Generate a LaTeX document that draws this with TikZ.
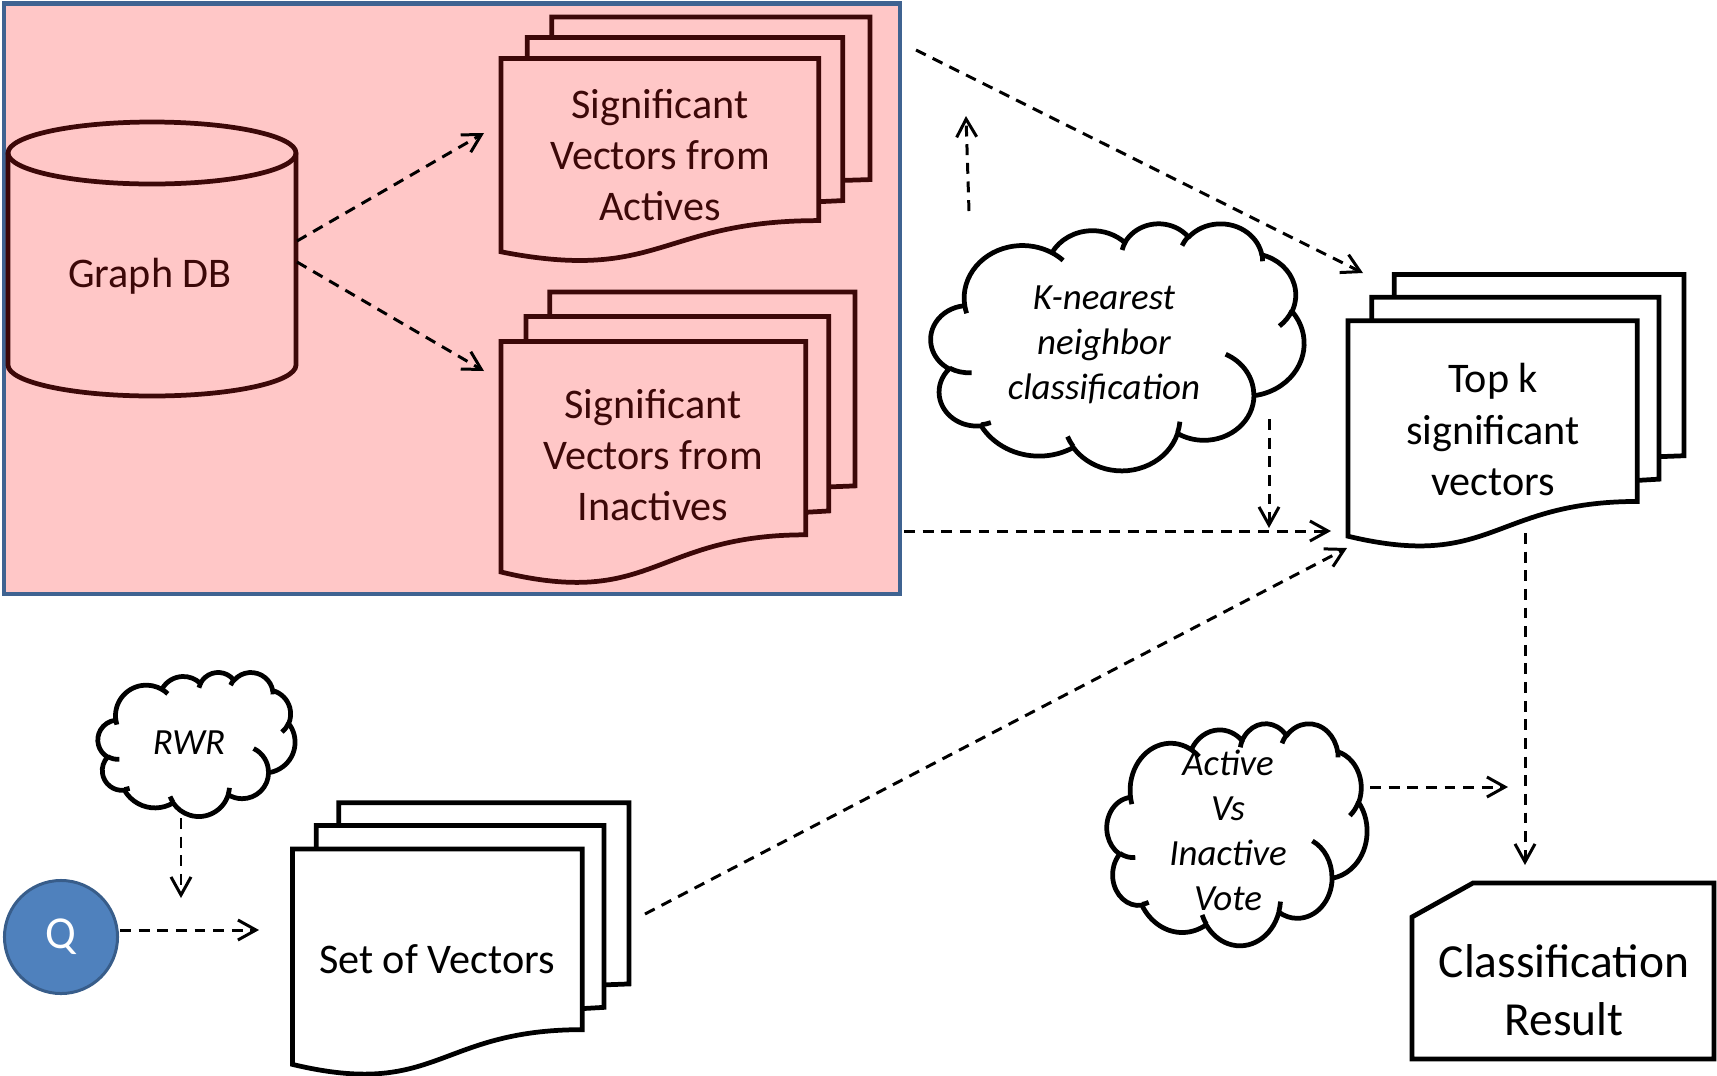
\documentclass[tikz,border=0pt]{standalone}
\usepackage{fontspec}
\setmainfont{Carlito}
\usetikzlibrary{arrows.meta}

\definecolor{pinkbg}{HTML}{FFC7C7}
\definecolor{boxblue}{HTML}{3F6391}
\definecolor{darkmaroon}{HTML}{3C0808}
\definecolor{qfill}{HTML}{4F81BD}
\definecolor{qline}{HTML}{385D8A}

\tikzset{
  shapeline/.style={line width=1.35pt, line join=miter},
  cloudline/.style={line width=1.35pt, line join=round},
  flow/.style={dash pattern=on 3.1pt off 2.2pt, line width=0.85pt,
    -{Straight Barb[length=1.8mm,width=2mm]}},
  doctext/.style={font=\fontsize{12}{14.6}\selectfont, align=center, inner sep=0pt},
  cloudtext/.style={font=\fontsize{10.5}{12.8}\selectfont\itshape, align=center, inner sep=0pt},
}

% Elliptic arc data of the cloud outline (path box 43.2 x 43.2):
% the start angle is given as a visual angle, turned here into the
% parametric angle and sweep used by TikZ arcs.
\newcommand\cldset[5]{%
  \pgfmathsetmacro\cldtA{atan2((#2)*sin(#4),(#3)*cos(#4))}%
  \pgfmathsetmacro\cldtB{atan2((#2)*sin((#4)+(#5)),(#3)*cos((#4)+(#5)))}%
  \pgfmathsetmacro\cldtD{mod((\cldtB)-(\cldtA)-(#5)+900,360)-180+(#5)}%
  \expandafter\xdef\csname cld#1s\endcsname{\cldtA}%
  \expandafter\xdef\csname cld#1d\endcsname{\cldtD}%
}
\cldset{oa}{6.753}{9.190}{-190.4875}{123.7805}
\cldset{ob}{5.333}{7.267}{-144.1024}{89.9452}
\cldset{oc}{4.365}{5.945}{-145.8079}{99.7230}
\cldset{od}{4.857}{6.595}{-130.9861}{117.2417}
\cldset{oe}{5.333}{7.273}{-78.7089}{109.0269}
\cldset{of}{6.775}{9.220}{-46.2673}{130.2690}
\cldset{og}{5.785}{7.867}{0.6250}{114.0333}
\cldset{oh}{6.752}{9.215}{22.4516}{115.1726}
\cldset{oi}{7.720}{10.543}{66.2426}{75.7110}
\cldset{oj}{4.360}{5.945}{-274.9421}{146.7356}
\cldset{ok}{4.345}{5.945}{-246.8285}{152.5189}
\cldset{ia}{4.345}{5.945}{86.7420}{26.4295}
\cldset{ib}{4.360}{5.945}{73.6105}{11.4475}
\cldset{ic}{6.752}{9.215}{137.6242}{14.0811}
\cldset{id}{6.752}{9.215}{6.4533}{15.9984}
\cldset{ie}{5.785}{7.867}{-70.2924}{70.9174}
\cldset{ig}{4.857}{6.595}{-13.7443}{14.8589}
\cldset{ih}{4.857}{6.595}{-149.1815}{18.1954}
\cldset{ii}{4.365}{5.945}{-163.4943}{17.6864}
\cldset{ij}{6.753}{9.190}{-66.7070}{12.3194}
\cldset{ik}{6.753}{9.190}{157.6544}{11.8582}
\cldset{ix}{5.333}{7.273}{30.3180}{27.7515}

% cloud: #1,#2 top-left corner, #3 width, #4 height
\newcommand\cloudshape[4]{%
  \begin{scope}[shift={(#1,#2)}, xscale=#3/43.2, yscale=#4/43.2]
    \filldraw[cloudline, fill=white] (3.9,14.37)
      arc[start angle=\cldoas, delta angle=\cldoad, x radius=6.753, y radius=9.19]
      arc[start angle=\cldobs, delta angle=\cldobd, x radius=5.333, y radius=7.267]
      arc[start angle=\cldocs, delta angle=\cldocd, x radius=4.365, y radius=5.945]
      arc[start angle=\cldods, delta angle=\cldodd, x radius=4.857, y radius=6.595]
      arc[start angle=\cldoes, delta angle=\cldoed, x radius=5.333, y radius=7.273]
      arc[start angle=\cldofs, delta angle=\cldofd, x radius=6.775, y radius=9.22]
      arc[start angle=\cldogs, delta angle=\cldogd, x radius=5.785, y radius=7.867]
      arc[start angle=\cldohs, delta angle=\cldohd, x radius=6.752, y radius=9.215]
      arc[start angle=\cldois, delta angle=\cldoid, x radius=7.72, y radius=10.543]
      arc[start angle=\cldojs, delta angle=\cldojd, x radius=4.36, y radius=5.945]
      arc[start angle=\cldoks, delta angle=\cldokd, x radius=4.345, y radius=5.945]
      -- cycle;
    \draw[cloudline]
      (4.693,26.177) arc[start angle=\cldias, delta angle=\cldiad, x radius=4.345, y radius=5.945]
      (6.928,34.899) arc[start angle=\cldibs, delta angle=\cldibd, x radius=4.36, y radius=5.945]
      (16.478,39.09) arc[start angle=\cldics, delta angle=\cldicd, x radius=6.752, y radius=9.215]
      (28.827,34.751) arc[start angle=\cldids, delta angle=\cldidd, x radius=6.752, y radius=9.215]
      (34.129,22.954) arc[start angle=\cldies, delta angle=\cldied, x radius=5.785, y radius=7.867]
      (41.798,15.354) arc[start angle=\cldixs, delta angle=\cldixd, x radius=5.333, y radius=7.273]
      (38.324,5.426) arc[start angle=\cldigs, delta angle=\cldigd, x radius=4.857, y radius=6.595]
      (29.078,3.952) arc[start angle=\cldihs, delta angle=\cldihd, x radius=4.857, y radius=6.595]
      (22.141,4.72) arc[start angle=\cldiis, delta angle=\cldiid, x radius=4.365, y radius=5.945]
      (14,5.192) arc[start angle=\cldijs, delta angle=\cldijd, x radius=6.753, y radius=9.19]
      (4.127,15.789) arc[start angle=\cldiks, delta angle=\cldikd, x radius=6.753, y radius=9.19];
  \end{scope}}

% stack of three pages with a wavy lower edge:
% #1,#2 top-left corner, #3 width, #4 height, #5 fill, #6 stroke (coordinates in percent)
\newcommand\multidoc[6]{%
  \begin{scope}[shift={(#1,#2)}, xscale=#3/100, yscale=#4/100]
    \fill[#5] (13.76,0) -- (100,0) -- (100,66.63) -- (92.59,66.98) -- (13.76,66.98) -- cycle;
    \draw[shapeline, #6] (13.76,8.40) -- (13.76,0) -- (100,0) -- (100,66.63) -- (92.59,66.98);
    \fill[#5] (7.09,8.40) -- (92.59,8.40) -- (92.59,75.24) -- (86.09,75.70) -- (7.09,75.70) -- cycle;
    \draw[shapeline, #6] (7.09,17.01) -- (7.09,8.40) -- (92.59,8.40) -- (92.59,75.24) -- (86.09,75.70);
    \filldraw[shapeline, draw=#6, fill=#5] (0,17.01) -- (86.09,17.01) -- (86.09,83.44)
      .. controls (43.05,83.44) and (43.05,108.99) .. (0,96.21) -- cycle;
  \end{scope}}

\begin{document}
\begin{tikzpicture}[x=0.01cm, y=-0.01cm]
\useasboundingbox (0,0) rectangle (1717,1075);

% training panel
\draw[line width=1.4pt, draw=boxblue, fill=pinkbg] (4,3.5) rectangle (900,594);

% graph database
\filldraw[shapeline, draw=darkmaroon, fill=pinkbg] (8,153) -- (8,365)
  arc[start angle=180, end angle=0, x radius=144, y radius=31] -- (296,153)
  arc[start angle=0, end angle=-180, x radius=144, y radius=31] -- cycle;
\draw[shapeline, darkmaroon] (8,153) arc[start angle=180, end angle=0, x radius=144, y radius=31];

% page stacks
\multidoc{501}{17}{369}{244}{pinkbg}{darkmaroon}
\multidoc{501}{292}{354}{291}{pinkbg}{darkmaroon}
\multidoc{1348}{274.5}{336}{272}{white}{black}
\multidoc{292.5}{802.7}{336.5}{272}{white}{black}

% result box with a cut corner
\filldraw[shapeline, fill=white] (1412,917) -- (1473,883) -- (1714,883) -- (1714,1059) -- (1412,1059) -- cycle;

% clouds
\cloudshape{931}{223}{373}{247}
\cloudshape{98}{672}{197}{144}
\cloudshape{1107}{723}{260}{222}

% labels
\node[doctext, text=darkmaroon] (dbtext) at (150,276) {Graph DB};
\node[doctext, text=darkmaroon] (actv) at (660,155) {Significant\\Vectors from\\Actives};
\node[doctext, text=darkmaroon] (inactv) at (653,455) {Significant\\Vectors from\\Inactives};
\node[doctext] (topk) at (1493,429.5) {Top k\\significant\\vectors};
\node[doctext] (setv) at (437,959) {Set of Vectors};
\node[cloudtext] (knn) at (1104,345) {K-nearest\\neighbor\\classification};
\node[cloudtext] (rwr) at (189,743) {RWR};
\node[cloudtext] (vote) at (1228,830) {Active\\Vs\\Inactive\\Vote};
\node[font=\fontsize{13.5}{16.5}\selectfont, align=center, inner sep=0pt] (result) at (1564,990) {Classification\\Result};
\node[circle, fill=qfill, draw=qline, line width=0.85pt, minimum size=1.13cm,
  text=white, font=\fontsize{13}{15}\selectfont, inner sep=0pt] (q) at (61,937) {Q};

% connector end points
\coordinate (dbup) at (297,241);
\coordinate (actin) at (484,133);
\coordinate (dbdn) at (297,262);
\coordinate (inain) at (484,371);
\coordinate (panout) at (916,50);
\coordinate (topkin) at (1363,273);
\coordinate (knnup) at (969,211);
\coordinate (knnupend) at (966,116);
\coordinate (panmid) at (904,531);
\coordinate (topkleft) at (1331,531);
\coordinate (knnout) at (1269,419);
\coordinate (knnend) at (1269,528);
\coordinate (setout) at (645,914);
\coordinate (topklow) at (1347,548);
\coordinate (topkout) at (1525,533);
\coordinate (resin) at (1525,865);
\coordinate (voteout) at (1370,787);
\coordinate (voteend) at (1508,787);
\coordinate (rwrout) at (181,818);
\coordinate (rwrend) at (181,898);
\coordinate (qout) at (120,930);
\coordinate (setin) at (259,930);

% connectors
\draw[flow] (dbup) -- (actin);
\draw[flow] (dbdn) -- (inain);
\draw[flow] (panout) -- (topkin);
\draw[flow] (knnup) -- (knnupend);
\draw[flow] (panmid) -- (topkleft);
\draw[flow] (knnout) -- (knnend);
\draw[flow] (setout) -- (topklow);
\draw[flow] (topkout) -- (resin);
\draw[flow] (voteout) -- (voteend);
\draw[flow] (rwrout) -- (rwrend);
\draw[flow] (qout) -- (setin);
\end{tikzpicture}
\end{document}
